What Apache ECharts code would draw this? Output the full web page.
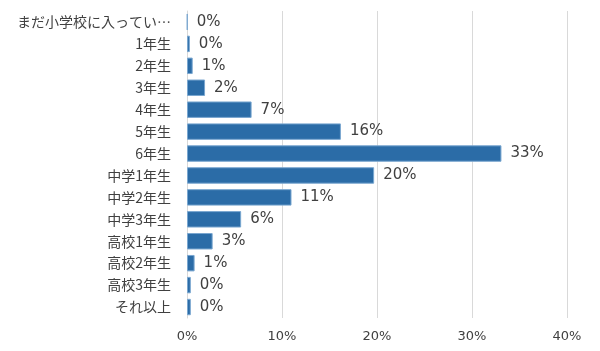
<!DOCTYPE html>
<html>
<head>
<meta charset="utf-8">
<script src="https://cdn.jsdelivr.net/npm/echarts@6/dist/echarts.min.js"></script>
<style>
  html, body { margin: 0; padding: 0; background: #fff; }
  #chart { width: 600px; height: 351px; }
</style>
</head>
<body>
<div id="chart"></div>
<script>
// 学年ごとの割合（%）
const grades = [
  "まだ小学校に入っていない", "1年生", "2年生", "3年生", "4年生", "5年生", "6年生",
  "中学1年生", "中学2年生", "中学3年生", "高校1年生", "高校2年生", "高校3年生", "それ以上"
];
const shares = [0.05, 0.3, 0.6, 1.9, 6.8, 16.2, 33.1, 19.7, 11.0, 5.7, 2.7, 0.8, 0.4, 0.4];
const xTicks = [0, 10, 20, 30, 40];

const textColor = "#404040";
const cjkFont = "'Noto Sans CJK JP', 'Noto Sans', sans-serif";
const numFont = "'DejaVu Sans', sans-serif";

const chart = echarts.init(document.getElementById("chart"));
chart.setOption({
  animation: false,
  textStyle: { fontFamily: cjkFont },
  grid: { left: 187, right: 33, top: 11, bottom: 33 },
  xAxis: {
    type: "value",
    min: xTicks[0],
    max: xTicks[xTicks.length - 1],
    interval: 10,
    axisLine: { show: false },
    axisTick: { show: false },
    splitLine: { lineStyle: { color: "#d9d9d9", width: 1 } },
    axisLabel: {
      color: textColor,
      fontFamily: numFont,
      fontSize: 13,
      margin: 12,
      formatter: (v) => v + "%",
    },
  },
  yAxis: {
    type: "category",
    inverse: true,
    data: grades,
    axisLine: { show: true, lineStyle: { color: "#d9d9d9" } },
    axisTick: { show: false },
    axisLabel: {
      color: textColor,
      fontFamily: cjkFont,
      fontSize: 14,
      margin: 16,
      width: 158,
      overflow: "truncate",
      ellipsis: "…",
    },
  },
  series: [
    {
      type: "bar",
      data: shares,
      barWidth: "75%",
      itemStyle: {
        color: "#2b6ca7",
        borderColor: "#7aa7d0",
        borderWidth: 1,
      },
      label: {
        show: true,
        position: "right",
        distance: 9,
        color: textColor,
        fontFamily: numFont,
        fontSize: 15,
        formatter: (p) => Math.round(p.value) + "%",
      },
    },
  ],
});
</script>
</body>
</html>
